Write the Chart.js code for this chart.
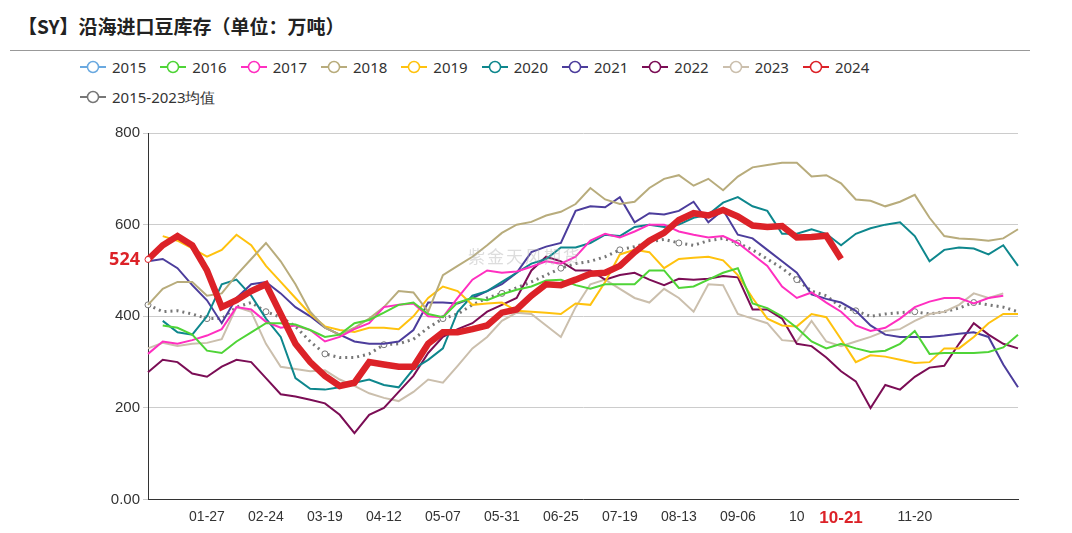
<!DOCTYPE html>
<html><head><meta charset="utf-8">
<script src="https://cdn.jsdelivr.net/npm/chart.js@4/dist/chart.umd.min.js"></script>
<style>
body{margin:0;width:1072px;height:533px;background:#fff;font-family:"Noto Sans CJK SC","Noto Sans",sans-serif;position:relative;overflow:hidden}
#title{position:absolute;left:18px;top:12px;font-size:19px;font-weight:bold;color:#222}
#rule{position:absolute;left:10px;right:42px;top:50px;border-top:1px solid #999}
#legend{position:absolute;left:80px;top:52px;width:900px;font-size:15px;color:#333;font-family:"Noto Sans",sans-serif}
.it{display:inline-flex;align-items:center;margin-right:14px;height:30px}
.it svg{margin-right:6px}
#wm{position:absolute;left:468px;top:243px;font-size:17px;color:rgba(180,180,180,.45);letter-spacing:2px}
#wrap{position:absolute;left:0;top:110px;width:1072px;height:423px}
</style></head><body>
<div id="title">【SY】沿海进口豆库存（单位：万吨）</div>
<div id="rule"></div>
<div id="legend"></div>
<div id="wrap"><canvas id="c"></canvas></div>
<div id="wm">紫金天风期货</div>
<script>
var N = 60;
var tickLabels = {4:'01-27',8:'02-24',12:'03-19',16:'04-12',20:'05-07',24:'05-31',28:'06-25',32:'07-19',36:'08-13',40:'09-06',44:'10',47:'10-21',52:'11-20'};
var labels = [];
for (var i = 0; i < N; i++) labels.push(tickLabels[i] || '');

var s2015 = [];
var s2016 = [null,380,375,360,325,320,345,365,385,385,382,370,355,360,385,392,408,425,430,405,398,430,440,435,448,458,465,478,480,468,460,470,470,470,500,500,462,465,480,495,505,428,418,400,375,345,330,340,330,322,325,340,368,318,320,320,320,322,332,360];
var s2017 = [318,345,340,348,358,372,420,415,388,375,380,370,345,355,372,385,420,425,428,400,398,440,480,500,495,498,508,520,515,530,565,580,572,585,600,600,585,578,572,575,560,535,510,465,440,452,430,410,380,368,375,395,420,432,440,440,428,440,445,null];
var s2018 = [425,460,475,475,445,450,490,525,560,520,470,410,375,360,375,395,420,455,452,410,490,510,530,555,582,600,606,620,628,645,680,655,645,650,680,700,708,685,700,675,705,725,730,735,735,705,708,690,655,652,640,650,665,615,575,570,568,565,570,590];
var s2019 = [null,575,565,548,530,545,578,555,510,475,440,405,378,370,366,375,375,372,400,440,465,455,425,428,430,412,410,408,405,428,425,475,535,545,540,505,525,528,530,522,490,440,395,380,378,405,398,350,300,315,312,305,298,300,330,330,355,385,405,405];
var s2020 = [null,390,365,360,400,470,480,445,395,355,265,242,240,245,255,262,250,245,285,305,330,410,445,455,475,495,515,525,550,550,560,578,575,595,600,595,600,615,622,648,660,640,630,580,580,590,580,555,580,592,600,605,575,520,545,550,548,535,555,510];
var s2021 = [520,525,505,468,435,385,440,470,475,450,420,400,375,360,345,340,340,345,370,430,430,428,440,455,470,495,540,552,560,630,640,638,660,605,625,622,630,650,605,632,578,570,545,520,495,448,438,430,412,380,360,355,355,355,358,362,365,355,295,245];
var s2022 = [278,305,300,275,268,290,305,300,265,230,225,218,210,185,145,185,200,235,270,320,355,372,385,410,425,440,500,530,520,500,500,480,490,495,480,468,482,480,482,488,485,415,415,395,340,335,310,280,258,200,250,240,268,288,292,340,385,360,340,330];
var s2023 = [330,342,335,340,342,350,420,410,340,290,285,280,282,262,248,232,222,215,235,262,255,292,330,355,390,408,405,380,355,420,470,480,460,440,430,460,440,410,470,468,405,395,385,348,345,390,345,335,345,355,368,372,390,405,410,425,450,440,450,null];
var s2024 = [524,555,575,555,500,420,435,455,470,405,340,300,270,248,255,300,295,290,290,340,365,365,372,380,408,415,445,470,468,480,493,495,510,540,565,582,610,625,620,632,618,598,595,597,572,573,576,525];
var sAvg = [425,410,412,405,395,395,420,430,410,398,378,345,318,310,310,318,338,340,350,375,395,405,425,440,450,462,475,490,505,515,520,530,545,552,562,568,560,555,565,570,560,545,525,505,480,455,445,420,412,400,405,408,410,405,410,418,430,425,420,410];

var series = [
  {label:'2015', data:s2015, color:'#6aa9e0'},
  {label:'2016', data:s2016, color:'#4fd437'},
  {label:'2017', data:s2017, color:'#ff2fc0'},
  {label:'2018', data:s2018, color:'#b8ac7c'},
  {label:'2019', data:s2019, color:'#ffc20e'},
  {label:'2020', data:s2020, color:'#0e878d'},
  {label:'2021', data:s2021, color:'#4c3d9c'},
  {label:'2022', data:s2022, color:'#7b0d55'},
  {label:'2023', data:s2023, color:'#cbbfad'},
  {label:'2024', data:s2024, color:'#dc2228'},
  {label:'2015-2023均值', data:sAvg, color:'#777777'}
];

// html legend: line with hollow circle
var lg = document.getElementById('legend');
series.forEach(function (s, i) {
  var d = document.createElement('span'); d.className = 'it';
  d.innerHTML = '<svg width="26" height="14"><line x1="0" y1="7" x2="26" y2="7" stroke="' + s.color + '" stroke-width="2"/>' +
    '<circle cx="13" cy="7" r="5.5" fill="#fff" stroke="' + s.color + '" stroke-width="1.5"/></svg>' + s.label;
  lg.appendChild(d);
  if (i === 9) lg.appendChild(document.createElement('br'));
});

var datasets = series.map(function (s) {
  var isRed = s.label === '2024', isAvg = s.label.length > 4;
  return {
    label: s.label, data: s.data, borderColor: s.color, backgroundColor: '#fff',
    borderWidth: isRed ? 6.5 : (isAvg ? 3 : 2), borderDash: isAvg ? [2, 4] : [],
    tension: 0, spanGaps: false, order: isRed ? 0 : 1,
    pointRadius: function (ctx) {
      var i = ctx.dataIndex;
      if (isRed) return i === 0 ? 3 : 0;
      if (isAvg) return i % 4 === 0 ? 3 : 0;
      return 0;
    },
    pointBorderWidth: 1
  };
});

var redLabel = {
  id: 'redLabel',
  afterDraw: function (chart) {
    var y = chart.scales.y.getPixelForValue(524), c = chart.ctx;
    c.save(); c.fillStyle = '#dc2228'; c.font = 'bold 18px "Noto Sans", sans-serif';
    c.textAlign = 'right'; c.textBaseline = 'middle';
    c.fillText('524', chart.chartArea.left - 8, y);
    c.restore();
  }
};

new Chart(document.getElementById('c'), {
  type: 'line',
  data: {labels: labels, datasets: datasets},
  plugins: [redLabel],
  options: {
    responsive: true, maintainAspectRatio: false, animation: false,
    layout: {padding: {left: 0, right: 54, top: 23, bottom: 0}},
    plugins: {legend: {display: false}, tooltip: {enabled: false}},
    scales: {
      x: {
        offset: false,
        grid: {display: false, drawTicks: true, tickLength: 5},
        border: {color: '#333'},
        ticks: {
          autoSkip: false, maxRotation: 0, padding: 4,
          color: function (ctx) { return ctx.index === 47 ? '#dc2228' : '#333'; },
          font: function (ctx) { return ctx.index === 47 ? {size: 17, weight: 'bold'} : {size: 14}; },
          callback: function (v, i) { return labels[i]; }
        }
      },
      y: {
        min: 0, max: 800, afterFit: function (s) { s.width = 148; },
        grid: {color: '#cccccc', drawTicks: true, tickLength: 5},
        border: {color: '#333'},
        ticks: {stepSize: 200, color: '#333', font: {size: 15},
          callback: function (v) { return v === 0 ? '0.00' : v; }}
      }
    }
  }
});
</script>
</body></html>
